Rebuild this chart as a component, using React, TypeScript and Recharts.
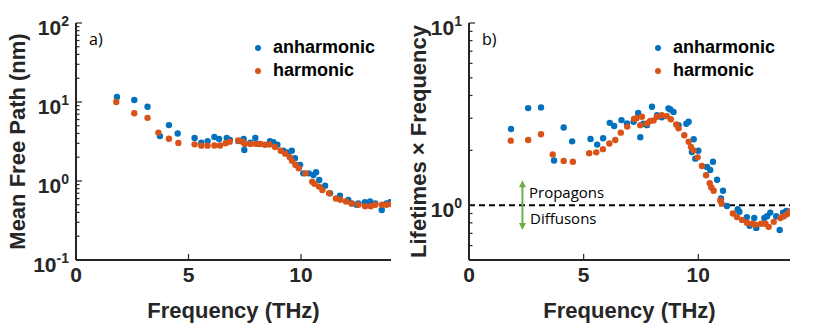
import { Legend, ReferenceLine, Scatter, ScatterChart, XAxis, YAxis } from 'recharts'

const AXIS = '#262626'
const BLUE = '#0072BD'
const ORANGE = '#D95319'
const FONT = '"Liberation Sans", Arial, sans-serif'
const NOTE_FONT = '"Open Sans", sans-serif'

// tick values
const freqTicks = [0, 5, 10]
const mfpTicks = [
	0.1, 0.2, 0.3, 0.4, 0.5, 0.6, 0.7, 0.8, 0.9, 1, 2, 3, 4, 5, 6, 7, 8, 9, 10, 20, 30, 40, 50,
	60, 70, 80, 90, 100,
]
const mfpMajor = [0.1, 1, 10, 100]
const ltfTicks = [0.5, 0.6, 0.7, 0.8, 0.9, 1, 2, 3, 4, 5, 6, 7, 8, 9, 10]
const ltfMajor = [1, 10]

// a) mean free path (nm)
const mfpAnhFreq = [
	1.82, 2.59, 3.18, 3.73, 4.13, 4.52, 5.27, 5.57, 5.85, 6.15, 6.36, 6.7, 6.84, 7.21, 7.45, 7.48,
	7.75, 7.97, 8.15, 8.62, 8.77, 8.95, 9.21, 9.39, 9.59, 9.73, 9.8, 9.96, 10.1, 10.35, 10.55,
	10.67, 10.81, 11.07, 11.29, 11.73, 12.1, 12.25, 12.47, 12.55, 12.84, 13.07, 13.3, 13.59, 13.8,
	13.96,
]
const mfpAnh = [
	11.6, 10.6, 8.7, 3.7, 5.1, 4.0, 3.5, 3.05, 3.2, 3.6, 3.4, 3.5, 3.3, 3.2, 3.4, 2.47, 3.05, 3.5,
	2.94, 3.2, 3.1, 2.88, 2.42, 2.3, 2.42, 1.94, 1.6, 1.6, 1.25, 1.25, 1.19, 1.29, 1.03, 0.87, 0.7,
	0.65, 0.575, 0.52, 0.5, 0.52, 0.54, 0.55, 0.52, 0.43, 0.52, 0.54,
]
const mfpHarFreq = [
	1.79, 2.59, 3.18, 3.66, 4.13, 4.55, 5.27, 5.57, 5.85, 6.15, 6.4, 6.65, 6.83, 7.21, 7.4, 7.5,
	7.75, 8.0, 8.2, 8.4, 8.6, 8.85, 9.1, 9.3, 9.5, 9.6, 9.75, 9.9, 10.2, 10.5, 10.6, 10.8, 10.95,
	11.25, 11.55, 11.75, 12.0, 12.25, 12.55, 12.85, 13.1, 13.3, 13.6, 13.8, 14.0,
]
const mfpHar = [
	10.0, 7.2, 6.3, 4.1, 3.43, 3.03, 2.91, 2.8, 2.8, 2.82, 2.82, 3.0, 3.15, 3.25, 3.15, 2.95, 2.95,
	2.95, 2.95, 2.88, 2.9, 2.7, 2.42, 2.22, 2.0, 1.8, 1.6, 1.45, 1.25, 0.98, 0.92, 0.85, 0.77, 0.7,
	0.6, 0.58, 0.55, 0.52, 0.5, 0.48, 0.48, 0.5, 0.5, 0.5, 0.51,
]

// b) lifetimes x frequency
const ltfAnhFreq = [
	1.83, 2.58, 3.14, 3.71, 4.13, 4.5, 5.3, 5.59, 5.85, 6.14, 6.33, 6.65, 6.89, 7.18, 7.38, 7.47,
	7.6, 7.76, 7.98, 8.2, 8.41, 8.7, 8.78, 8.92, 9.14, 9.48, 9.58, 9.72, 9.8, 9.87, 10.0, 10.38,
	10.52, 10.64, 10.82, 10.99, 11.08, 11.25, 11.72, 11.79, 12.12, 12.24, 12.44, 12.53, 12.88,
	13.0, 13.14, 13.4, 13.55, 13.7, 13.84, 13.99,
]
const ltfAnh = [
	2.62, 3.41, 3.44, 1.76, 2.67, 2.24, 2.31, 2.15, 2.33, 2.83, 2.72, 2.93, 2.81, 2.87, 3.21, 2.36,
	2.8, 2.75, 3.47, 3.12, 3.04, 3.4, 3.35, 3.25, 2.75, 2.8, 2.87, 1.96, 2.3, 1.8, 1.99, 1.62, 1.56,
	1.73, 1.38, 1.09, 1.2, 0.99, 0.95, 0.92, 0.86, 0.77, 0.85, 0.75, 0.85, 0.87, 0.91, 0.87, 0.73,
	0.91, 0.93, 0.92,
]
const ltfHarFreq = [
	1.82, 2.58, 3.14, 3.65, 4.13, 4.53, 5.24, 5.55, 5.84, 6.12, 6.38, 6.62, 6.9, 7.2, 7.3, 7.47,
	7.54, 7.76, 7.9, 8.05, 8.2, 8.41, 8.63, 8.8, 9.04, 9.14, 9.39, 9.58, 9.68, 9.8, 9.97, 10.16,
	10.34, 10.5, 10.57, 10.67, 10.96, 11.02, 11.51, 11.69, 11.91, 12.12, 12.34, 12.49, 12.74,
	12.93, 13.07, 13.29, 13.58, 13.73, 13.87, 13.99,
]
const ltfHar = [
	2.26, 2.28, 2.45, 1.9, 1.75, 1.73, 1.93, 1.95, 2.03, 2.18, 2.28, 2.5, 2.7, 2.97, 3.0, 2.75,
	3.06, 2.81, 2.9, 2.92, 3.06, 3.12, 3.08, 2.96, 2.77, 2.64, 2.42, 2.23, 2.09, 2.0, 1.83, 1.64,
	1.46, 1.32, 1.25, 1.2, 1.06, 1.02, 0.9, 0.86, 0.83, 0.8, 0.79, 0.78, 0.79, 0.79, 0.76, 0.81,
	0.85, 0.87, 0.89, 0.92,
]

const zip = (fs: number[], vs: number[]) => fs.map((f, i) => ({ f, v: vs[i] }))

const series = [
	{ name: 'anharmonic', color: BLUE },
	{ name: 'harmonic', color: ORANGE },
]

const dot = (color: string) => (p: any) => <circle cx={p.cx} cy={p.cy} r={3.2} fill={color} />

const XTick = ({ x, y, payload, top }: any) => (
	<g>
		<line x1={x} y1={y} x2={x} y2={top ? y + 6 : y - 6} stroke={AXIS} strokeWidth={1.2} />
		{!top && (
			<text x={x} y={y + 22} textAnchor='middle' fontSize={21} fontWeight='bold' fontFamily={FONT} fill={AXIS}>
				{payload.value}
			</text>
		)}
	</g>
)

const YTick = ({ x, y, payload, right, majors }: any) => {
	const v = payload.value
	const major = majors.includes(v)
	const len = major ? 6 : 3.5
	const dir = right ? -1 : 1
	return (
		<g>
			<line x1={x} y1={y} x2={x + dir * len} y2={y} stroke={AXIS} strokeWidth={1.2} />
			{major && !right && (
				<text x={x - 7} y={y + 11.5} textAnchor='end' fontSize={21} fontWeight='bold' fontFamily={FONT} fill={AXIS}>
					<tspan>10</tspan>
					<tspan dy={-9} fontSize={14}>
						{Math.round(Math.log10(v))}
					</tspan>
				</text>
			)}
		</g>
	)
}

const LegendBox = () => (
	<div style={{ fontFamily: FONT, fontWeight: 'bold', fontSize: 18, color: '#000' }}>
		{series.map((s) => (
			<div key={s.name} style={{ display: 'flex', alignItems: 'center', height: 23 }}>
				<span
					style={{ width: 6, height: 6, borderRadius: '50%', background: s.color, marginRight: 12 }}
				/>
				{s.name}
			</div>
		))}
	</div>
)

const arrowShape = (p: any) => {
	const { x1, y1, x2, y2 } = p
	const top = Math.min(y1, y2)
	const bot = Math.max(y1, y2)
	const c = '#70AD47'
	return (
		<g>
			<line x1={x1} y1={top + 5} x2={x2} y2={bot - 5} stroke={c} strokeWidth={2} />
			<polygon points={`${x1},${top} ${x1 - 3.5},${top + 7} ${x1 + 3.5},${top + 7}`} fill={c} />
			<polygon points={`${x1},${bot} ${x1 - 3.5},${bot - 7} ${x1 + 3.5},${bot - 7}`} fill={c} />
		</g>
	)
}

type PanelProps = {
	left: number
	width: number
	yWidth: number
	marginRight: number
	yDomain: number[]
	yTicks: number[]
	majors: number[]
	anh: { f: number; v: number }[]
	har: { f: number; v: number }[]
	tag: string
	yTitle: string
	titleX: number
	children?: any
}

const Panel = (p: PanelProps) => {
	const plotL = p.yWidth
	const plotR = p.width - p.marginRight
	const cx = (plotL + plotR) / 2
	return (
		<div style={{ position: 'absolute', left: p.left, top: 0 }}>
			<ScatterChart width={p.width} height={324} margin={{ top: 23, right: p.marginRight, bottom: 0, left: 0 }}>
				<XAxis
					xAxisId={0}
					type='number'
					dataKey='f'
					domain={[0, 14]}
					ticks={freqTicks}
					interval={0}
					allowDataOverflow
					height={64}
					tickSize={0}
					tickMargin={0}
					tickLine={false}
					axisLine={{ stroke: AXIS, strokeWidth: 2 }}
					tick={<XTick />}
				/>
				<XAxis
					xAxisId='top'
					orientation='top'
					type='number'
					dataKey='f'
					domain={[0, 14]}
					ticks={freqTicks}
					interval={0}
					allowDataOverflow
					height={0}
					tickSize={0}
					tickMargin={0}
					tickLine={false}
					axisLine={{ stroke: AXIS, strokeWidth: 2 }}
					tick={<XTick top />}
				/>
				<YAxis
					yAxisId={0}
					type='number'
					dataKey='v'
					scale='log'
					domain={p.yDomain}
					ticks={p.yTicks}
					interval={0}
					allowDataOverflow
					width={p.yWidth}
					tickSize={0}
					tickMargin={0}
					tickLine={false}
					axisLine={{ stroke: AXIS, strokeWidth: 2 }}
					tick={<YTick majors={p.majors} />}
				/>
				<YAxis
					yAxisId='right'
					orientation='right'
					type='number'
					dataKey='v'
					scale='log'
					domain={p.yDomain}
					ticks={p.yTicks}
					interval={0}
					allowDataOverflow
					width={0}
					tickSize={0}
					tickMargin={0}
					tickLine={false}
					axisLine={{ stroke: AXIS, strokeWidth: 2 }}
					tick={<YTick right majors={p.majors} />}
				/>
				{p.children}
				<Scatter
					name='anharmonic'
					data={p.anh}
					fill={BLUE}
					shape={dot(BLUE)}
					isAnimationActive={false}
				/>
				<Scatter
					name='harmonic'
					data={p.har}
					fill={ORANGE}
					shape={dot(ORANGE)}
					isAnimationActive={false}
				/>
				<Legend
					layout='vertical'
					align='center'
					verticalAlign='middle'
					content={() => <LegendBox />}
					wrapperStyle={{ left: 255, top: 36, width: 'auto', height: 'auto' }}
				/>
				<text x={plotL + 13} y={45} fontSize={16} fontFamily={NOTE_FONT} fill='#000'>
					{p.tag}
				</text>
				<text
					x={cx}
					y={318}
					textAnchor='middle'
					fontSize={22}
					fontWeight='bold'
					fontFamily={FONT}
					fill={AXIS}
				>
					Frequency (THz)
				</text>
				<text
					transform={`translate(${p.titleX}, 141.5) rotate(-90)`}
					textAnchor='middle'
					dominantBaseline='central'
					fontSize={22}
					fontWeight='bold'
					fontFamily={FONT}
					fill={AXIS}
				>
					{p.yTitle}
				</text>
			</ScatterChart>
		</div>
	)
}

const App = () => {
	return (
		<div style={{ position: 'absolute', left: 0, top: 0, width: 831, height: 324, background: '#fff' }}>
			<Panel
				left={0}
				width={420}
				yWidth={76}
				marginRight={29}
				yDomain={[0.1, 100]}
				yTicks={mfpTicks}
				majors={mfpMajor}
				anh={zip(mfpAnhFreq, mfpAnh)}
				har={zip(mfpHarFreq, mfpHar)}
				tag='a)'
				yTitle='Mean Free Path (nm)'
				titleX={17}
			/>
			<Panel
				left={400}
				width={431}
				yWidth={69}
				marginRight={41}
				yDomain={[0.5, 10]}
				yTicks={ltfTicks}
				majors={ltfMajor}
				anh={zip(ltfAnhFreq, ltfAnh)}
				har={zip(ltfHarFreq, ltfHar)}
				tag='b)'
				yTitle='Lifetimes × Frequency'
				titleX={18}
			>
				<ReferenceLine y={1} stroke='#000' strokeWidth={2} strokeDasharray='6 4' />
				<ReferenceLine
					segment={[
						{ x: 2.33, y: 0.73 },
						{ x: 2.33, y: 1.37 },
					]}
					shape={arrowShape}
				/>
				<text x={129} y={198} fontSize={15} fontFamily={NOTE_FONT} fill='#000'>
					Propagons
				</text>
				<text x={130} y={224} fontSize={15} fontFamily={NOTE_FONT} fill='#000'>
					Diffusons
				</text>
			</Panel>
		</div>
	)
}

export default App
